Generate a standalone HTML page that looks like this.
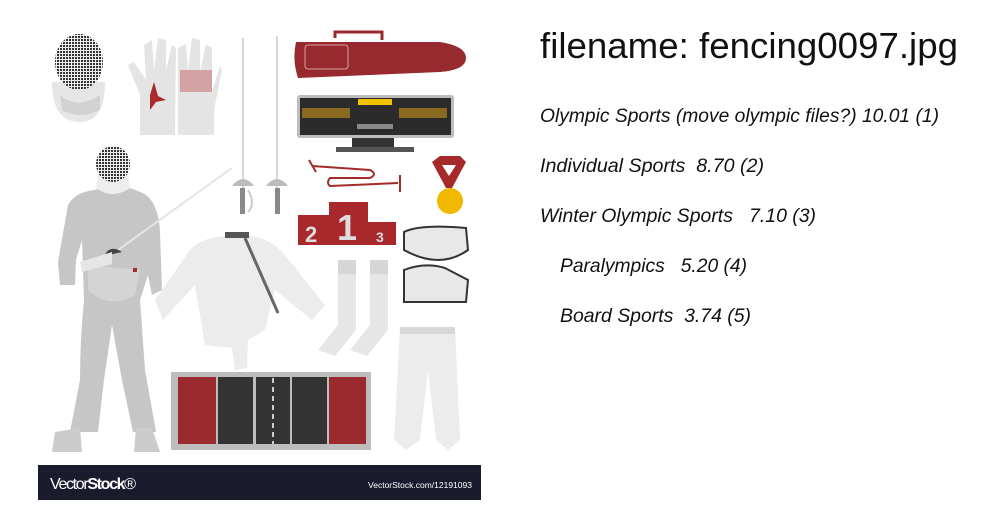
<!DOCTYPE html>
<html><head><meta charset="utf-8"><style>
html,body{margin:0;padding:0;background:#fff;width:1000px;height:520px;overflow:hidden}
svg{display:block}
</style></head><body>
<svg width="1000" height="520" viewBox="0 0 1000 520">
<defs>
<pattern id="mesh" width="3" height="3" patternUnits="userSpaceOnUse"><rect width="3" height="3" fill="#eee"/><rect width="2" height="2" fill="#333"/></pattern>
</defs>
<g>
 <rect x="38" y="20" width="443" height="445" fill="#fff"/>
 <g>
  <path d="M52 82 Q52 122 80 122 Q105 122 105 82 Z" fill="#e6e6e6"/>
  <path d="M60 95 Q78 110 100 95 L100 110 Q80 120 62 110Z" fill="#d2d2d2"/>
  <ellipse cx="79" cy="62" rx="24" ry="28" fill="url(#mesh)"/>
 </g>
 <g fill="#e4e4e4">
  <path d="M140 135 L140 95 L128 65 L134 62 L146 80 L144 45 L152 40 L154 70 L158 38 L166 40 L166 70 L172 45 L176 48 L175 135Z"/>
  <path d="M178 135 L178 48 L186 44 L188 70 L192 38 L200 40 L200 72 L206 44 L212 48 L212 92 L220 66 L222 70 L214 110 L214 135Z"/>
  <path d="M150 95 L154 82 L158 96 L166 100 L156 102 L150 110 Z" fill="#a82a2a"/>
  <rect x="180" y="70" width="32" height="22" fill="#c88" opacity="0.7"/>
 </g>
 <g>
  <line x1="243" y1="38" x2="243" y2="190" stroke="#ccc" stroke-width="1.5"/>
  <line x1="277" y1="36" x2="277" y2="190" stroke="#ccc" stroke-width="1.5"/>
  <path d="M232 186 Q243 172 254 186Z" fill="#bbb"/><path d="M266 186 Q277 172 288 186Z" fill="#bbb"/>
  <rect x="240" y="188" width="5" height="26" fill="#888"/><rect x="275" y="188" width="5" height="26" fill="#888"/>
  <path d="M248 190 Q256 204 248 212" stroke="#ccc" stroke-width="2" fill="none"/>
 </g>
 <g>
  <path d="M335 38 L335 32 L382 32 L382 40" stroke="#9c2a2a" stroke-width="3" fill="none"/>
  <path d="M296 42 L440 42 Q466 46 466 58 Q466 70 440 72 L298 78 Q292 60 296 42Z" fill="#962a2e"/>
  <rect x="305" y="45" width="43" height="24" rx="3" fill="none" stroke="#d9a0a0" stroke-width="1"/>
 </g>
 <g>
  <rect x="297" y="95" width="157" height="43" rx="3" fill="#bdbdbd"/>
  <rect x="300" y="98" width="151" height="37" fill="#2b2b2b"/>
  <rect x="358" y="99" width="34" height="6" fill="#f2c200"/>
  <rect x="302" y="108" width="48" height="10" fill="#8a6a20"/>
  <rect x="399" y="108" width="48" height="10" fill="#8a6a20"/>
  <rect x="357" y="124" width="36" height="5" fill="#888"/>
  <rect x="352" y="138" width="42" height="9" fill="#333"/>
  <rect x="336" y="147" width="78" height="5" fill="#555"/>
 </g>
 <g stroke="#a52a2a" stroke-width="2" fill="none">
  <path d="M312 166 L370 170 Q378 174 370 178 L330 178 Q326 183 330 186 L398 183"/>
  <path d="M309 160 L316 172" /><path d="M400 175 L400 192"/>
 </g>
 <g>
  <path d="M432 162 L440 156 L460 156 L466 162 L452 188 L446 188Z" fill="#a52a2a"/>
  <path d="M442 165 L456 165 L449 176Z" fill="#fff"/>
  <circle cx="450" cy="201" r="13" fill="#f2b800"/>
 </g>
 <g font-family="Liberation Sans, sans-serif" font-weight="bold" fill="#ddd">
  <rect x="298" y="215" width="31" height="30" fill="#a8282b"/>
  <rect x="329" y="202" width="39" height="43" fill="#a8282b"/>
  <rect x="368" y="222" width="28" height="23" fill="#a8282b"/>
  <text x="305" y="242" font-size="22">2</text>
  <text x="337" y="240" font-size="36">1</text>
  <text x="376" y="242" font-size="14">3</text>
 </g>
 <g>
  <path d="M404 232 Q420 224 466 228 L468 250 Q440 270 404 250Z" fill="#e8e8e8" stroke="#333" stroke-width="2"/>
  <path d="M404 270 Q425 262 445 268 L468 280 L466 302 L404 302Z" fill="#e8e8e8" stroke="#333" stroke-width="2"/>
 </g>
 <g>
  <path d="M95 190 Q75 192 68 205 L58 262 L60 285 L75 285 L76 260 L82 240 L84 300 Q80 340 80 380 L70 432 L98 432 L104 380 L112 325 L122 380 L133 432 L156 432 L145 370 L140 300 L148 275 L152 295 L162 290 L160 232 Q158 198 140 192 Q120 182 100 188Z" fill="#c6c6c6"/>
  <path d="M88 290 Q110 310 135 295 L140 270 L88 265Z" fill="#d4d4d4"/>
  <path d="M96 188 Q112 200 130 188 L128 174 L98 174Z" fill="#eee"/>
  <ellipse cx="113" cy="164" rx="17" ry="18" fill="url(#mesh)"/>
  <path d="M52 452 L55 432 L80 428 L82 452Z" fill="#ccc"/>
  <path d="M134 452 L136 428 L152 428 L160 452Z" fill="#ccc"/>
  <line x1="118" y1="250" x2="232" y2="168" stroke="#e4e4e4" stroke-width="2"/>
  <path d="M104 256 Q110 244 122 252Z" fill="#444"/>
  <path d="M80 262 L112 252 L112 264 L82 272Z" fill="#e6e6e6"/>
  <rect x="133" y="268" width="4" height="4" fill="#a52a2a"/>
 </g>
 <g>
  <path d="M225 236 Q200 238 190 250 L155 300 L163 320 L195 285 L205 345 L232 348 L235 370 L247 368 L248 340 L265 330 L275 290 L312 320 L325 305 L285 255 Q270 238 250 236Z" fill="#ececec"/>
  <rect x="225" y="232" width="24" height="6" fill="#555"/>
  <line x1="245" y1="238" x2="278" y2="313" stroke="#666" stroke-width="3"/>
 </g>
 <g fill="#e6e6e6">
  <path d="M338 260 L356 260 L356 330 L335 356 L318 350 L338 325Z"/>
  <path d="M370 260 L388 260 L388 330 L367 356 L350 350 L370 325Z"/>
  <rect x="338" y="260" width="18" height="14" fill="#d6d6d6"/><rect x="370" y="260" width="18" height="14" fill="#d6d6d6"/>
 </g>
 <g>
  <path d="M400 328 L455 328 L460 440 L448 450 L436 440 L428 370 L420 440 L406 450 L394 440Z" fill="#ececec"/>
  <rect x="400" y="327" width="55" height="7" fill="#d8d8d8"/>
 </g>
 <g>
  <rect x="171" y="372" width="200" height="78" fill="#bdbdbd"/>
  <rect x="178" y="377" width="38" height="67" fill="#9b2a2e"/>
  <rect x="218" y="377" width="35" height="67" fill="#333"/>
  <rect x="256" y="377" width="34" height="67" fill="#333"/>
  <rect x="292" y="377" width="35" height="67" fill="#333"/>
  <rect x="329" y="377" width="37" height="67" fill="#9b2a2e"/>
  <line x1="273" y1="378" x2="273" y2="444" stroke="#fff" stroke-width="1.5" stroke-dasharray="5 4"/>
 </g>
 <g>
  <rect x="38" y="465" width="443" height="35" fill="#1b1b2e"/>
  <text x="50" y="489" font-family="Liberation Sans, sans-serif" font-size="16" fill="#fff" textLength="86">Vector<tspan font-weight="bold">Stock</tspan>®</text>
  <text x="472" y="488" text-anchor="end" font-family="Liberation Sans, sans-serif" font-size="8.5" fill="#fff">VectorStock.com/12191093</text>
 </g>
</g>
<g font-family="Liberation Sans, sans-serif" fill="#111">
 <text x="540" y="58" font-size="36" textLength="418" lengthAdjust="spacingAndGlyphs">filename: fencing0097.jpg</text>
 <g font-style="italic" font-size="19">
  <text x="540" y="122" textLength="399" lengthAdjust="spacingAndGlyphs">Olympic Sports (move olympic files?) 10.01 (1)</text>
  <text x="540" y="172" textLength="224" lengthAdjust="spacingAndGlyphs" xml:space="preserve">Individual Sports  8.70 (2)</text>
  <text x="540" y="222" textLength="276" lengthAdjust="spacingAndGlyphs" xml:space="preserve">Winter Olympic Sports   7.10 (3)</text>
  <text x="560" y="272" textLength="187" lengthAdjust="spacingAndGlyphs" xml:space="preserve">Paralympics   5.20 (4)</text>
  <text x="560" y="322" textLength="191" lengthAdjust="spacingAndGlyphs" xml:space="preserve">Board Sports  3.74 (5)</text>
 </g>
</g>
</svg>
</body></html>
